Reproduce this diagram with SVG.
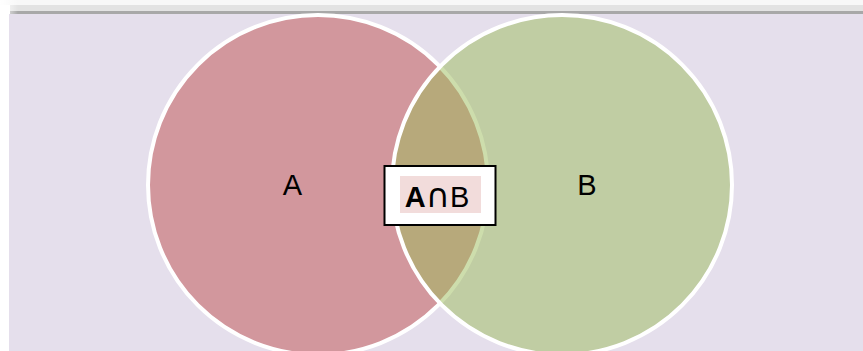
<svg xmlns="http://www.w3.org/2000/svg" width="863" height="351" viewBox="0 0 863 351">
  <defs>
    <linearGradient id="barFade" x1="0" y1="0" x2="1" y2="0">
      <stop offset="0" stop-color="#ffffff"/>
      <stop offset="1" stop-color="#ffffff" stop-opacity="0"/>
    </linearGradient>
  </defs>
  <style>
    .set { stroke: #ffffff; stroke-width: 4; }
    .lbl { font-family: "Liberation Sans", Arial, sans-serif; font-size: 29px; fill: #000000; text-anchor: middle; }
  </style>
  <rect x="0" y="0" width="863" height="351" fill="#ffffff"/>
  <g id="topbar">
    <rect x="0" y="0" width="863" height="5" fill="#f8f8f8"/>
    <rect x="10" y="5" width="853" height="6" fill="#e3e3e3"/>
    <rect x="10" y="11" width="853" height="3" fill="#a8a8a8"/>
    <rect x="0" y="0" width="18" height="14" fill="url(#barFade)"/>
  </g>
  <rect id="panel" x="9" y="14" width="854" height="337" fill="#e5dfec"/>
  <g id="setA">
    <circle class="set" cx="318" cy="185" r="170" fill="#c0504d" fill-opacity="0.5"/>
    <text class="lbl" x="292.5" y="194.5">A</text>
  </g>
  <g id="setB">
    <circle class="set" cx="562" cy="185" r="170" fill="#9bbb59" fill-opacity="0.5"/>
    <text class="lbl" x="587" y="194.5">B</text>
  </g>
  <g id="intersection">
    <rect x="384.5" y="166" width="111" height="59" fill="#ffffff" stroke="#000000" stroke-width="2"/>
    <rect x="400" y="176" width="81" height="37" fill="#f2dcdb"/>
    <text class="lbl" x="437" y="207"><tspan font-weight="bold">A</tspan><tspan font-family="DejaVu Sans, sans-serif" font-size="33px">∩</tspan>B</text>
  </g>
</svg>
